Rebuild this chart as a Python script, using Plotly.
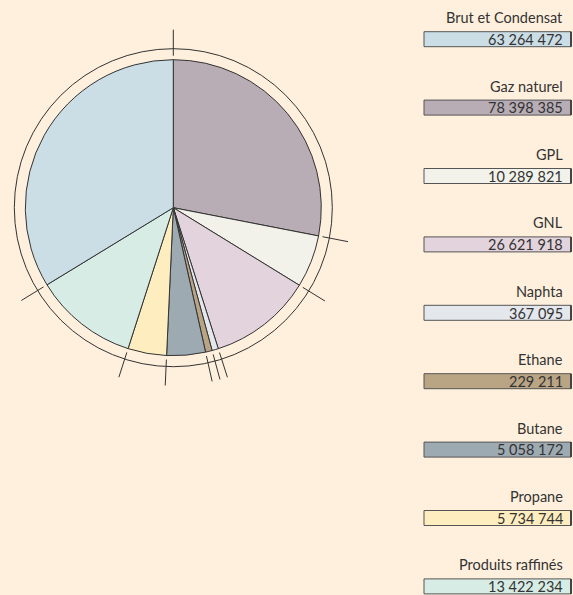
import math
import plotly.graph_objects as go

# ---- data ----
legend_labels = ["Brut et Condensat", "Gaz naturel", "GPL", "GNL", "Naphta",
                 "Ethane", "Butane", "Propane", "Produits raffinés"]
legend_values = [63264472, 78398385, 10289821, 26621918, 367095,
                 229211, 5058172, 5734744, 13422234]
# pie slices, clockwise from 12 o'clock, sizes (degrees)
slice_labels = ["Gaz naturel", "GPL", "GNL", "Naphta", "Ethane",
                "Butane", "Propane", "Produits raffinés", "Brut et Condensat"]
slice_sizes = [101.0, 20.6, 40.7, 2.5, 2.6, 15.2, 15.2, 40.8, 121.4]
colors = {
    "Brut et Condensat": "#cbdde5",
    "Gaz naturel": "#b8adb5",
    "GPL": "#f2f2ea",
    "GNL": "#e3d3dc",
    "Naphta": "#e4e7ec",
    "Ethane": "#b9a584",
    "Butane": "#9eaab2",
    "Propane": "#feedbe",
    "Produits raffinés": "#d7ece4",
}

W, H = 573, 595
BG = "#fef0dd"
LINE = "#333333"
FONT = "Lato, Roboto Condensed, sans-serif"

cx, cy = 173.3, 207.7
R_PIE, R_RING = 148, 159
R_T0, R_T1 = 152, 178

fig = go.Figure()
fig.add_trace(go.Pie(
    labels=slice_labels, values=slice_sizes, sort=False, direction="clockwise",
    rotation=0, textinfo="none", hoverinfo="label",
    marker=dict(colors=[colors[l] for l in slice_labels], line=dict(color=LINE, width=1)),
    domain=dict(x=[(cx - R_PIE) / W, (cx + R_PIE) / W],
                y=[(H - cy - R_PIE) / H, (H - cy + R_PIE) / H]),
    showlegend=False,
))

shapes = []
shapes.append(dict(type="circle", xref="x", yref="y",
                   x0=cx - R_RING, x1=cx + R_RING, y0=cy - R_RING, y1=cy + R_RING,
                   line=dict(color=LINE, width=1)))
total = sum(slice_sizes)
acc = 0.0
for s in [0] + slice_sizes[:-1]:
    acc += s
    a = math.radians(acc / total * 360.0)
    dx, dy = math.sin(a), -math.cos(a)
    shapes.append(dict(type="line", xref="x", yref="y",
                       x0=cx + R_T0 * dx, y0=cy + R_T0 * dy,
                       x1=cx + R_T1 * dx, y1=cy + R_T1 * dy,
                       line=dict(color=LINE, width=1)))

annotations = []
BOX_X0, BOX_X1 = 424, 571
TEXT_X = 565
for i, (lab, val) in enumerate(zip(legend_labels, legend_values)):
    top = 31.7 + 68.4 * i
    shapes.append(dict(type="rect", xref="x", yref="y",
                       x0=BOX_X0, x1=BOX_X1, y0=top, y1=top + 15,
                       fillcolor=colors[lab], line=dict(color="#555555", width=1)))
    shapes.append(dict(type="line", xref="x", yref="y",
                       x0=BOX_X1, x1=BOX_X1, y0=top, y1=top + 15,
                       line=dict(color="#444444", width=2)))
    annotations.append(dict(x=TEXT_X, y=top - 14, xref="x", yref="y",
                            text=lab, showarrow=False, xanchor="right", yanchor="middle",
                            font=dict(family=FONT, size=14.5, color="#333333")))
    annotations.append(dict(x=TEXT_X, y=top + 7.8, xref="x", yref="y",
                            text=f"{val:,}".replace(",", " "), showarrow=False,
                            xanchor="right", yanchor="middle",
                            font=dict(family=FONT, size=14.5, color="#333333")))

fig.update_layout(
    width=W, height=H, margin=dict(l=0, r=0, t=0, b=0),
    paper_bgcolor=BG, plot_bgcolor="rgba(0,0,0,0)",
    xaxis=dict(range=[0, W], visible=False, fixedrange=True),
    yaxis=dict(range=[H, 0], visible=False, fixedrange=True),
    shapes=shapes, annotations=annotations, showlegend=False,
)
fig.write_html(
    "out.html",
    config={"displayModeBar": False},
    post_script="document.body.style.margin='0';document.body.style.overflow='hidden';"
                "document.documentElement.style.background='" + BG + "';",
)
